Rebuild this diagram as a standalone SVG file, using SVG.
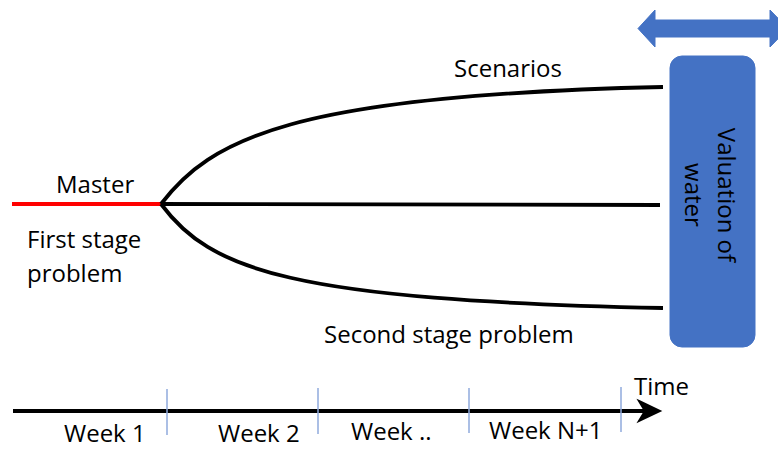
<svg xmlns="http://www.w3.org/2000/svg" width="778" height="449" viewBox="0 0 778 449">
  <style>
    .lbl { font-family: "Open Sans", "Noto Sans", "Liberation Sans", sans-serif; font-size: 24px; fill: #000; }
    .branch { fill: none; stroke: #000; stroke-width: 3.8; stroke-linecap: butt; }
    .tick { stroke: #8FAADC; stroke-width: 1.5; }
    .blue { fill: #4472C4; stroke: #4472C4; stroke-width: 1; }
  </style>

  <!-- tree connectors: master branch splitting into scenarios -->
  <g id="connectors">
    <line x1="12" y1="204" x2="161" y2="204" stroke="#FF0000" stroke-width="4"/>
    <path class="branch" d="M161,204 C210,140 290,95 663,87"/>
    <path class="branch" d="M161,204 L660,205"/>
    <path class="branch" d="M161,204 C210,270 290,300 663,308"/>
  </g>

  <!-- first stage labels -->
  <g id="master">
    <text class="lbl" x="56" y="193">Master</text>
    <text class="lbl" x="27" y="248">First stage</text>
    <text class="lbl" x="27" y="282">problem</text>
  </g>

  <!-- second stage labels -->
  <g id="scenarios">
    <text class="lbl" x="454" y="77">Scenarios</text>
  </g>
  <g id="second-stage">
    <text class="lbl" x="324" y="343">Second stage problem</text>
  </g>

  <!-- water valuation block with double arrow -->
  <g id="valuation">
    <rect class="blue" x="670" y="56" width="85" height="291" rx="12" ry="12"/>
    <text class="lbl" font-size="25" text-anchor="middle" transform="translate(718,195) rotate(90)">Valuation of</text>
    <text class="lbl" font-size="25" text-anchor="middle" transform="translate(685,195) rotate(90)">water</text>
  </g>
  <g id="double-arrow">
    <polygon class="blue" points="638,28.5 655,10 655,20 770,20 770,10 788,28.5 770,47 770,37 655,37 655,47"/>
  </g>

  <!-- time axis -->
  <g id="timeline">
    <line x1="13" y1="411" x2="648" y2="411" stroke="#000" stroke-width="4"/>
    <polygon points="639,401 660,411 639,421 645,411" fill="#000" stroke="#000" stroke-width="2" stroke-linejoin="miter"/>
    <line class="tick" x1="167" y1="389" x2="167" y2="435"/>
    <line class="tick" x1="318" y1="388" x2="318" y2="434"/>
    <line class="tick" x1="469" y1="388" x2="469" y2="433"/>
    <line class="tick" x1="621" y1="387" x2="621" y2="432"/>
    <text class="lbl" x="634" y="395">Time</text>
    <text class="lbl" x="64" y="442">Week 1</text>
    <text class="lbl" x="218" y="442">Week 2</text>
    <text class="lbl" x="351" y="440">Week ..</text>
    <text class="lbl" x="489" y="439">Week N+1</text>
  </g>
</svg>
